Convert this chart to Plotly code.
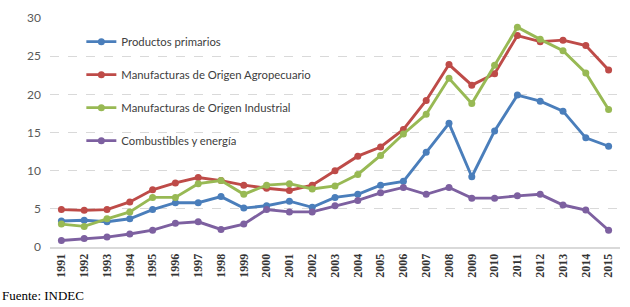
import plotly.graph_objects as go

years = list(range(1991, 2016))
year_labels = [str(y) for y in years]

productos_primarios = [3.4, 3.5, 3.3, 3.7, 4.9, 5.8, 5.8, 6.6, 5.1, 5.4, 6.0, 5.2,
                       6.5, 6.9, 8.1, 8.6, 12.4, 16.2, 9.2, 15.2, 19.9, 19.1, 17.8, 14.3, 13.2]
moa = [4.9, 4.8, 4.9, 5.9, 7.5, 8.4, 9.1, 8.7, 8.1, 7.7, 7.4, 8.1,
       10.0, 11.9, 13.1, 15.4, 19.2, 23.9, 21.2, 22.7, 27.7, 26.9, 27.1, 26.4, 23.2]
moi = [3.0, 2.7, 3.7, 4.6, 6.5, 6.5, 8.3, 8.7, 6.9, 8.1, 8.3, 7.6,
       8.0, 9.5, 12.0, 14.8, 17.4, 22.1, 18.8, 23.8, 28.8, 27.2, 25.7, 22.8, 18.0]
combustibles = [0.85, 1.1, 1.3, 1.7, 2.2, 3.1, 3.3, 2.3, 3.0, 4.9, 4.6, 4.6,
                5.4, 6.1, 7.1, 7.8, 6.9, 7.8, 6.4, 6.4, 6.7, 6.9, 5.5, 4.85, 2.2]

series = [
    ("Productos primarios", productos_primarios, "#4A7EBB"),
    ("Manufacturas de Origen Agropecuario", moa, "#BE4B48"),
    ("Manufacturas de Origen Industrial", moi, "#98B954"),
    ("Combustibles y energía", combustibles, "#7D60A0"),
]

fig = go.Figure()
for i, (name, vals, color) in enumerate(series):
    fig.add_trace(go.Scatter(
        x=years, y=vals, name=name, mode="lines+markers",
        line=dict(color=color, width=2.9),
        marker=dict(color=color, size=7, symbol="circle"),
        legendgroup=f"g{i}",
    ))

fig.update_layout(
    width=630, height=307,
    margin=dict(l=50, r=10, t=12, b=60),
    paper_bgcolor="white", plot_bgcolor="white",
    showlegend=True,
    legend=dict(
        x=0.055, y=0.96, xanchor="left", yanchor="top",
        bgcolor="rgba(0,0,0,0)",
        font=dict(family="Lato, Open Sans, sans-serif", size=11.3, color="#404040"),
        tracegroupgap=14,
        itemwidth=30,
    ),
    xaxis=dict(
        range=[1990.5, 2015.5],
        tickmode="array", tickvals=years, ticktext=year_labels,
        tickangle=-90,
        tickfont=dict(family="Liberation Serif, Times New Roman, serif", size=12,
                      color="#333333", weight="bold"),
        showgrid=False, zeroline=False,
        showline=True, linecolor="#D9D9D9", linewidth=2,
        ticks="",
    ),
    yaxis=dict(
        range=[0, 30], tickvals=[0, 5, 10, 15, 20, 25, 30],
        tickfont=dict(family="Lato, Open Sans, sans-serif", size=12, color="#595959"),
        showgrid=True, gridcolor="#D9D9D9", gridwidth=1, griddash="dash",
        zeroline=False, showline=False, ticks="",
        ticklabelstandoff=8,
    ),
    annotations=[dict(
        text="Fuente: INDEC", xref="paper", yref="paper",
        x=-50/570, y=(247-297)/235, xanchor="left", yanchor="middle",
        showarrow=False,
        font=dict(family="Liberation Serif, Times New Roman, serif", size=13, color="#000000"),
    )],
)

fig.write_html(
    "out.html",
    config={"displayModeBar": False},
    post_script="document.body.style.margin='0';document.body.style.overflow='hidden';",
)
